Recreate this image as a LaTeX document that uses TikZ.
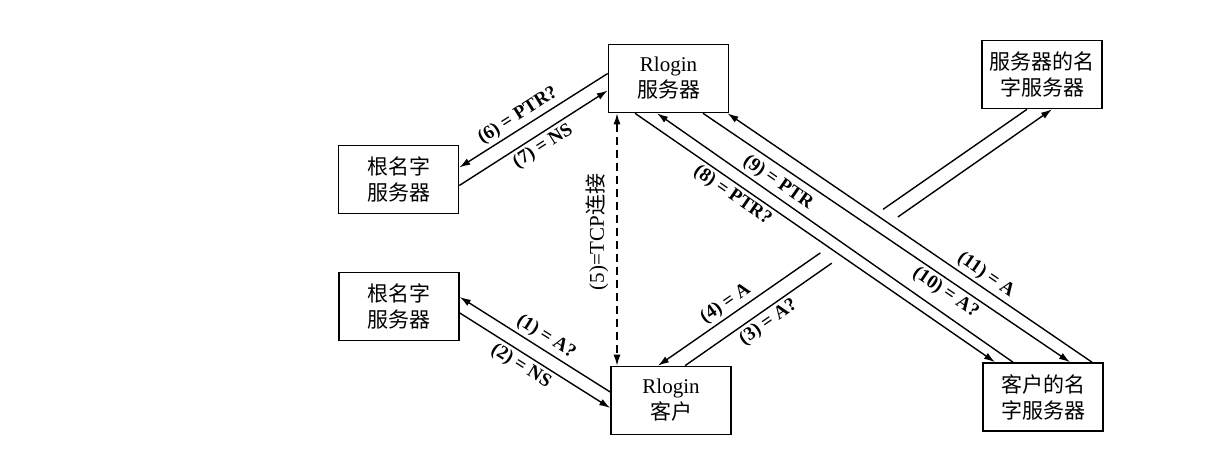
\documentclass[tikz,border=0pt]{standalone}
\usepackage{fontspec}
\setmainfont{Liberation Serif}
\newfontfamily\cjk{Noto Sans CJK SC}
\usetikzlibrary{arrows.meta,calc}

\begin{document}
\begin{tikzpicture}[
  x=0.5pt, y=-0.5pt,
  box/.style={draw, line width=0.8pt, minimum width=60pt, minimum height=34pt,
    align=center, inner sep=1pt, font=\fontsize{10.5}{13}\selectfont},
  wire/.style={line width=0.7pt},
  msg/.style={wire, -{Latex[length=5.5pt,width=3.5pt]}},
  lbl/.style={sloped, inner sep=1.5pt, font=\bfseries\fontsize{9.5}{11}\selectfont}
]
\useasboundingbox (0,0) rectangle (1220,466);

% hosts and name servers
\node[box] (root1) at (398.5,179.5) {{\cjk 根名字}\\{\cjk 服务器}};
\node[box] (root2) at (399,306.5) {{\cjk 根名字}\\{\cjk 服务器}};
\node[box] (srv) at (668.5,78.5) {Rlogin\\{\cjk 服务器}};
\node[box] (cli) at (671,400.5) {Rlogin\\{\cjk 客户}};
\node[box] (sns) at (1042,74.5) {{\cjk 服务器的名}\\{\cjk 字服务器}};
\node[box] (cns) at (1043,397) {{\cjk 客户的名}\\{\cjk 字服务器}};

% client side
\draw[msg] ($(cli.west)+(0,-8.5)$) -- node[lbl,above,pos=0.47] {(1) = A?} ($(root2.east)+(0,-9.5)$);
\draw[msg] ($(root2.east)+(0,6.5)$) -- node[lbl,below,pos=0.45] {(2) = NS} ($(cli.west)+(0,7.5)$);

\coordinate (a3) at ($(cli.north)+(14,0)$);
\coordinate (b3) at ($(sns.south)+(10,0)$);
\draw[wire] (a3) -- node[lbl,below,pos=0.52] {(3) = A?} ($(a3)!0.4!(b3)$);
\draw[msg] ($(a3)!0.58!(b3)$) -- (b3);

\coordinate (a4) at ($(sns.south)+(-15,0)$);
\coordinate (b4) at ($(cli.north)+(-13,0)$);
\draw[wire] (a4) -- ($(a4)!0.39!(b4)$);
\draw[msg] ($(a4)!0.56!(b4)$) -- node[lbl,above,pos=0.54] {(4) = A} (b4);

% tcp connection
\coordinate (tcp) at ($(srv.south)+(-51.5,0)$);
\draw[wire, dash pattern=on 4pt off 2.5pt, {Latex[length=5.5pt,width=3.5pt]}-{Latex[length=5.5pt,width=3.5pt]}]
  (tcp) -- node[pos=0.47, anchor=south, rotate=90, inner sep=4pt, font=\fontsize{10.5}{12}\selectfont] {(5)=TCP{\cjk 连接}} (tcp |- cli.north);

% server side
\draw[msg] ($(srv.west)+(0,-5)$) -- node[lbl,above,pos=0.56] {(6) = PTR?} ($(root1.east)+(0,-12)$);
\draw[msg] ($(root1.east)+(0,6)$) -- node[lbl,below,pos=0.52] {(7) = NS} ($(srv.west)+(0,12)$);

\draw[msg] ($(srv.south)+(-33.5,0)$) -- node[lbl,below,pos=0.29] {(8) = PTR?} ($(cns.north)+(-48,0)$);
\draw[msg] ($(cns.north)+(-30,0)$) -- node[lbl,above,pos=0.68] {(9) = PTR} ($(srv.south)+(-11.5,0)$);
\draw[msg] ($(srv.south)+(34.5,0)$) -- node[lbl,below,pos=0.68] {(10) = A?} ($(cns.north)+(27,0)$);
\draw[msg] ($(cns.north)+(49,0)$) -- node[lbl,above,pos=0.31] {(11) = A} ($(srv.south)+(59,0)$);
\end{tikzpicture}
\end{document}
